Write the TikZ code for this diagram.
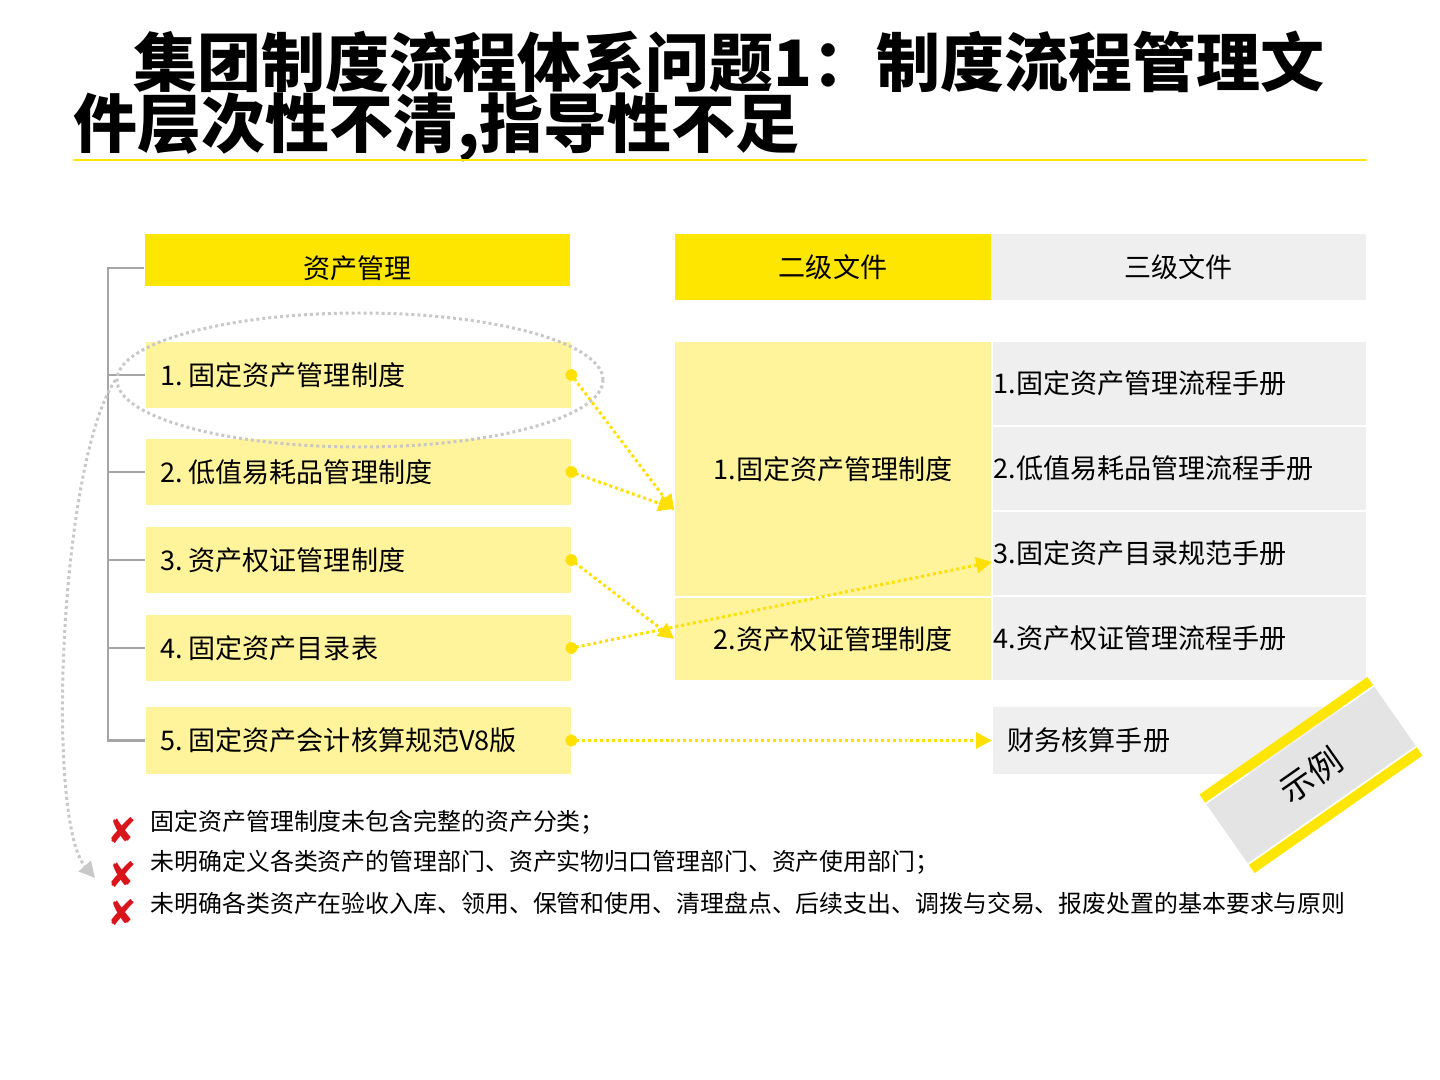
\documentclass[tikz,border=0pt]{standalone}
\usepackage{fontspec}
\setmainfont{Noto Sans CJK SC}
\newfontfamily\symfont{DejaVu Sans}
\usetikzlibrary{arrows.meta,shapes.geometric}
\definecolor{hiyellow}{HTML}{FFE600}
\definecolor{softyellow}{HTML}{FFF39B}
\definecolor{softgray}{HTML}{EFEFEF}
\definecolor{stampgray}{HTML}{E4E4E4}
\definecolor{treegray}{HTML}{A6A6A6}
\definecolor{ringgray}{HTML}{C8C8C8}
\definecolor{crossred}{HTML}{D9141B}
\definecolor{linkyellow}{HTML}{FFE000}

\begin{document}
\begin{tikzpicture}[
    every node/.style={font=\fontsize{7.7}{9}\selectfont, inner sep=0},
    headbox/.style={fill=hiyellow, minimum height=0.66cm},
    listbox/.style={fill=softyellow, anchor=west, text width=3.95cm, inner xsep=0.15cm, minimum height=0.66cm, align=left},
    levelbox/.style={fill=softyellow, minimum width=3.16cm},
    handbox/.style={fill=softgray, anchor=west, text width=3.71cm, inner xsep=0.01cm, minimum height=0.83cm, align=left},
    note/.style={anchor=west, font=\fontsize{6.8}{8}\selectfont},
    cross/.style={text=crossred, font=\fontsize{10}{10}\selectfont\symfont},
    tree/.style={treegray, line width=0.6pt},
    link/.style={linkyellow, line width=0.85pt, dash pattern=on 0.85pt off 0.85pt, shorten <=-1.7pt,
        {Circle[length=3.4pt]}-{Triangle[length=4.5pt,width=4.5pt]}},
    ringline/.style={ringgray, line width=0.85pt, dash pattern=on 0.85pt off 0.85pt}
]
    \useasboundingbox (0,0) rectangle (14.4,-10.8);

    % title
    \node (title1) [anchor=west, font=\fontsize{18.2}{20}\bfseries] at (1.33,-0.62) {集团制度流程体系问题1：制度流程管理文};
    \node (title2) [anchor=west, font=\fontsize{18.2}{20}\bfseries] at (0.73,-1.27) {件层次性不清,指导性不足};
    \draw [hiyellow, line width=0.85pt] (0.73,-1.60) -- (13.67,-1.60);

    % headers
    \node (hd) [headbox, minimum width=4.25cm, minimum height=0.52cm] at (3.575,-2.60) {};
    \node (hdtext) at (3.575,-2.68) {资产管理};
    \node (lv) [headbox, minimum width=3.16cm] at (8.33,-2.67) {二级文件};
    \node (hb) [headbox, fill=softgray, minimum width=3.75cm] at (11.785,-2.67) {三级文件};

    % left list
    \node (b1) [listbox] at (1.45,-3.75) {1.\hspace{0.2em}固定资产管理制度};
    \node (b2) [listbox] at (1.45,-4.72) {2.\hspace{0.2em}低值易耗品管理制度};
    \node (b3) [listbox] at (1.45,-5.60) {3.\hspace{0.2em}资产权证管理制度};
    \node (b4) [listbox] at (1.45,-6.48) {4.\hspace{0.2em}固定资产目录表};
    \node (b5) [listbox, minimum height=0.67cm] at (1.45,-7.405) {5.\hspace{0.2em}固定资产会计核算规范V8版};

    \coordinate (root) at (1.08,-2.68);
    \draw [tree] (hdtext.west -| hd.west) -- (root) |- (b5.west);
    \draw [tree] (root |- b1.west) -- (b1.west);
    \draw [tree] (root |- b2.west) -- (b2.west);
    \draw [tree] (root |- b3.west) -- (b3.west);
    \draw [tree] (root |- b4.west) -- (b4.west);

    % second and third level
    \node (s1) [levelbox, minimum height=2.54cm] at (8.33,-4.69) {1.固定资产管理制度};
    \node (s2) [levelbox, minimum height=0.82cm] at (8.33,-6.39) {2.资产权证管理制度};
    \node (t1) [handbox] at (9.92,-3.835) {1.固定资产管理流程手册};
    \node (t2) [handbox] at (9.92,-4.685) {2.低值易耗品管理流程手册};
    \node (t3) [handbox] at (9.92,-5.535) {3.固定资产目录规范手册};
    \node (t4) [handbox] at (9.92,-6.385) {4.资产权证管理流程手册};
    \node (f1) [fill=softgray, anchor=west, minimum width=3.73cm, minimum height=0.67cm] at (9.92,-7.405) {};
    \node (f1text) [anchor=west] at (10.07,-7.405) {财务核算手册};

    \draw [link] (b1.east) -- ([yshift=0.86cm]s1.south west);
    \draw [link] (b2.east) -- ([yshift=0.88cm]s1.south west);
    \draw [link] (b3.east) -- (s2.west);
    \draw [link] (b4.east) -- ([yshift=-0.085cm]t3.west);
    \draw [link] (b5.east) -- (f1.west);

    % ring round item 1
    \node (ring) [ellipse, draw, ringline, minimum width=4.86cm, minimum height=1.34cm] at (3.60,-3.80) {};
    \coordinate (hint) at (0.95,-8.78);
    \draw [ringline, -{Triangle[length=4.5pt,width=4.5pt]}] (ring.west) .. controls (0.60,-4.60) and (0.45,-8.20) .. (hint);

    % findings
    \node (x1) [cross] at (1.22,-8.31) {✘};
    \node (x2) [cross] at (1.22,-8.75) {✘};
    \node (x3) [cross] at (1.22,-9.13) {✘};
    \node (n1) [note] at (1.50,-8.22) {固定资产管理制度未包含完整的资产分类；};
    \node (n2) [note] at (1.50,-8.62) {未明确定义各类资产的管理部门、资产实物归口管理部门、资产使用部门；};
    \node (n3) [note] at (1.50,-9.03) {未明确各类资产在验收入库、领用、保管和使用、清理盘点、后续支出、调拨与交易、报废处置的基本要求与原则};

    % stamp
    \begin{scope}[shift={(13.11,-7.75)}, rotate=35]
        \fill [stampgray] (-1.025,-0.36) rectangle (1.025,0.36);
        \fill [hiyellow] (-1.025,0.38) rectangle (1.025,0.48);
        \fill [hiyellow] (-1.025,-0.48) rectangle (1.025,-0.38);
        \node (stamp) [rotate=35, font=\fontsize{9.5}{10}\selectfont] at (0,0) {示例};
    \end{scope}
\end{tikzpicture}
\end{document}
